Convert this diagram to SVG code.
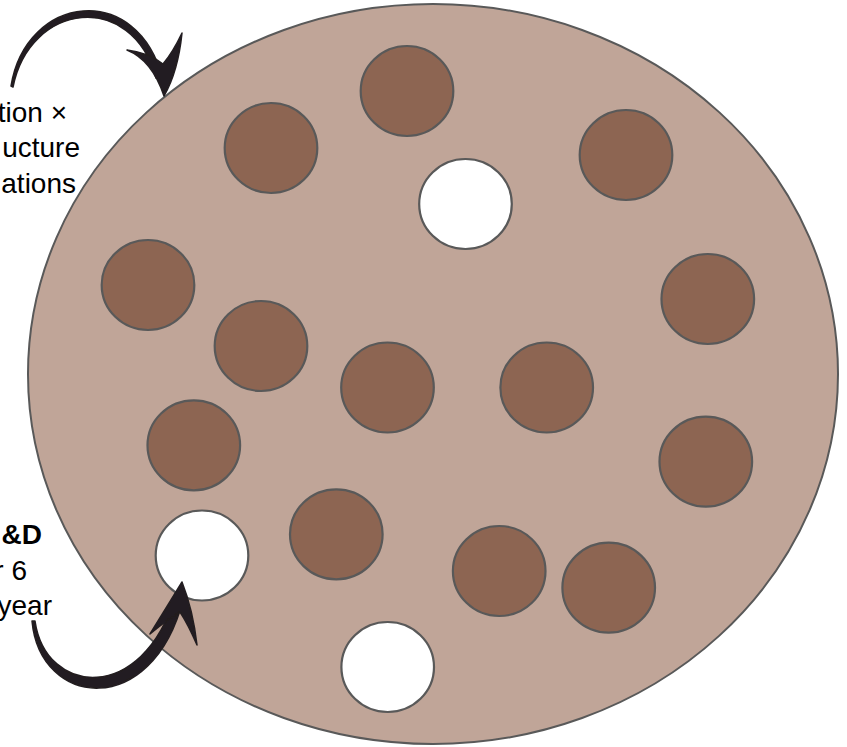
<svg xmlns="http://www.w3.org/2000/svg" width="847" height="747" viewBox="0 0 847 747">
<defs>
<style>
.big{fill:#C0A598;stroke:#595959;stroke-width:2}
.dot{fill:#8D6552;stroke:#595959;stroke-width:2.2}
.hole{fill:#FFFFFF;stroke:#595959;stroke-width:2.2}
.arw{fill:#231F20;stroke:#231F20;stroke-width:1.5;stroke-linejoin:round}
.lbl{font-family:"Liberation Sans",Arial,sans-serif;font-size:28px;fill:#000;text-anchor:end}
.b{font-weight:bold}
</style>
<filter id="brush" x="-10%" y="-10%" width="120%" height="120%"><feGaussianBlur stdDeviation="0.7"/></filter>
</defs>
<rect width="847" height="747" fill="#FFFFFF"/>
<g id="plate"><ellipse class="big" cx="433" cy="374" rx="405" ry="370"/></g>
<g id="n1"><ellipse class="dot" cx="407" cy="91" rx="46.3" ry="45"/></g>
<g id="n2"><ellipse class="dot" cx="271" cy="148" rx="46.3" ry="45"/></g>
<g id="n3"><ellipse class="dot" cx="626" cy="155" rx="46.3" ry="45"/></g>
<g id="n4"><ellipse class="hole" cx="465.5" cy="204" rx="46.3" ry="45"/></g>
<g id="n5"><ellipse class="dot" cx="148" cy="285" rx="46.3" ry="45"/></g>
<g id="n6"><ellipse class="dot" cx="707.8" cy="299" rx="46.3" ry="45"/></g>
<g id="n7"><ellipse class="dot" cx="261" cy="346" rx="46.3" ry="45"/></g>
<g id="n8"><ellipse class="dot" cx="387.5" cy="387.5" rx="46.3" ry="45"/></g>
<g id="n9"><ellipse class="dot" cx="546.7" cy="387.5" rx="46.3" ry="45"/></g>
<g id="n10"><ellipse class="dot" cx="193.8" cy="445.3" rx="46.3" ry="45"/></g>
<g id="n11"><ellipse class="dot" cx="705.8" cy="461.7" rx="46.3" ry="45"/></g>
<g id="n12"><ellipse class="dot" cx="336.3" cy="534.3" rx="46.3" ry="45"/></g>
<g id="n13"><ellipse class="hole" cx="202" cy="555.5" rx="46.3" ry="45"/></g>
<g id="n14"><ellipse class="dot" cx="499.2" cy="571" rx="46.3" ry="45"/></g>
<g id="n15"><ellipse class="dot" cx="608.7" cy="587.7" rx="46.3" ry="45"/></g>
<g id="n16"><ellipse class="hole" cx="387.7" cy="667" rx="46.3" ry="45"/></g>
<g id="connectors" filter="url(#brush)">
<path class="arw" d="M11,86 C26,-6 138,-20 163,80 L156,78 C132,-10 30,2 13,87 Z"/>
<path class="arw" d="M127,50 Q152,60 164,96 Q178,72 182,33 Q173,52 163,64 Q150,53 127,50 Z"/>
<path class="arw" d="M32,621 C40,708 152,720 183,600 L175,597 C142,704 46,696 35,621 Z"/>
<path class="arw" d="M150,634 Q168,605 182,582 Q193,610 197,645 Q188,624 180,612 Q165,621 150,634 Z"/>
</g>
<g id="labels">
<text class="lbl" x="67" y="122">tion ×</text>
<text class="lbl" x="80" y="157">ucture</text>
<text class="lbl" x="76" y="193">ations</text>
<text class="lbl b" x="42" y="544">&amp;D</text>
<text class="lbl" x="27" y="580">r 6</text>
<text class="lbl" x="52" y="615">year</text>
</g>
</svg>
